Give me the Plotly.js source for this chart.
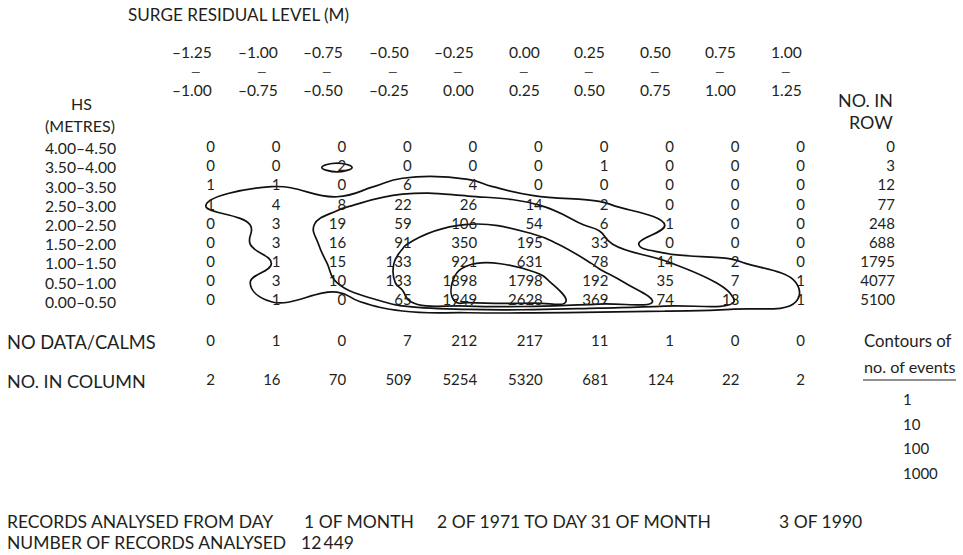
<!DOCTYPE html>
<html><head><meta charset="utf-8">
<script src="https://cdn.plot.ly/plotly-3.0.1.min.js"></script>
<style>html,body{margin:0;padding:0;background:#fff}#chart{width:963px;height:555px}</style>
</head><body><div id="chart"></div>
<script>
// ---------- DATA ----------
const surgeLow  = ["–1.25","–1.00","–0.75","–0.50","–0.25","0.00","0.25","0.50","0.75","1.00"];
const surgeHigh = ["–1.00","–0.75","–0.50","–0.25","0.00","0.25","0.50","0.75","1.00","1.25"];
const hsBands = ["4.00–4.50","3.50–4.00","3.00–3.50","2.50–3.00","2.00–2.50","1.50–2.00","1.00–1.50","0.50–1.00","0.00–0.50"];
const counts = [
  [0,0,0,0,0,0,0,0,0,0],
  [0,0,2,0,0,0,1,0,0,0],
  [1,1,0,6,4,0,0,0,0,0],
  [1,4,8,22,26,14,2,0,0,0],
  [0,3,19,59,106,54,6,1,0,0],
  [0,3,16,91,350,195,33,0,0,0],
  [0,1,15,133,921,631,78,14,2,0],
  [0,3,10,133,1898,1798,192,35,7,1],
  [0,1,0,65,1949,2628,369,74,13,1]
];
const rowTotals = [0,3,12,77,248,688,1795,4077,5100];
const noDataCalms = [0,1,0,7,212,217,11,1,0,0];
const columnTotals = [2,16,70,509,5254,5320,681,124,22,2];
const contourLevels = ["1","10","100","1000"];
const recordsLine1 = ["RECORDS ANALYSED FROM DAY","1 OF MONTH","2 OF 1971 TO DAY 31 OF MONTH","3 OF 1990"];
const recordsLine2 = ["NUMBER OF RECORDS ANALYSED","12\u2009449"];

// ---------- LAYOUT GEOMETRY (pixels) ----------
const W = 963, H = 555;
const colPx0 = 215, colStep = 65.56;   // anchor of first value column, spacing
const rowPx0 = 148.3, rowStep = 19.18; // first body row centre, spacing
const xr0 = -colPx0 / colStep, xr1 = xr0 + W / colStep;
const yr0 = -rowPx0 / rowStep, yr1 = yr0 + H / rowStep;
const pxToX = p => xr0 + p / colStep;
const pyToY = p => yr0 + p / rowStep;
const px = p => p / W, py = p => 1 - p / H;

const FONT = "Lato, 'Open Sans', sans-serif";
const TXT = "#231f20";
const fsNum = 15;

const nCols = surgeLow.length, nRows = hsBands.length;
const colIdx = Array.from({length:nCols}, (_, i) => i);
const numFont = () => ({family:FONT, size:fsNum, color:TXT});

// ---------- TRACES ----------
const traces = [];
// contours of number of events (log10 scale, levels 1,10,100,1000); zero counts -> 0.1
const lg = v => Math.log10(v > 0 ? v : 0.1);
const zeroLog = lg(0);
const cx = [-0.55].concat(colIdx.map(c => c - 0.14), [nCols - 1 + 0.3]);
const cy = counts.map((_, r) => r).concat([nRows - 1 + 0.75]);
const cz = counts.map(row => [zeroLog].concat(row.map(lg), [zeroLog]));
cz.push(cx.map(() => zeroLog));
traces.push({type:'contour', x:cx, y:cy, z:cz,
  contours:{coloring:'lines', start:0, end:3, size:1, showlabels:false},
  colorscale:[[0,'#111'],[1,'#111']], showscale:false,
  line:{width:1.7, smoothing:1.3, color:'#111'}, hoverinfo:'skip'});

// body cell texts
const bx = [], by = [], bt = [];
counts.forEach((row, r) => row.forEach((v, c) => { bx.push(c); by.push(r); bt.push(String(v)); }));
traces.push({type:'scatter', mode:'text', x:bx, y:by, text:bt, textposition:'middle left',
  textfont:numFont(), hoverinfo:'skip', showlegend:false});
// row totals
traces.push({type:'scatter', mode:'text', x:rowTotals.map(() => pxToX(895)), y:rowTotals.map((_, r) => r),
  text:rowTotals.map(String), textposition:'middle left', textfont:numFont(), hoverinfo:'skip', showlegend:false});
// no data / calms
traces.push({type:'scatter', mode:'text', x:colIdx, y:colIdx.map(() => pyToY(342)),
  text:noDataCalms.map(String), textposition:'middle left', textfont:numFont(), hoverinfo:'skip', showlegend:false});
// column totals
traces.push({type:'scatter', mode:'text', x:colIdx, y:colIdx.map(() => pyToY(381)),
  text:columnTotals.map(String), textposition:'middle left', textfont:numFont(), hoverinfo:'skip', showlegend:false});

// ---------- ANNOTATIONS ----------
const ann = [];
const A = (text, x, y, xanchor, size) => ({text, x:px(x), y:py(y), xref:'paper', yref:'paper',
  xanchor, yanchor:'middle', showarrow:false, font:{family:FONT, size:size, color:TXT}});
ann.push(A("SURGE RESIDUAL LEVEL (M)", 126, 15, 'left', 17.1));
colIdx.forEach(c => {
  ann.push({text:surgeLow[c], x:c, xref:'x', y:py(52), yref:'paper', xanchor:'right', yanchor:'middle', xshift:-1,
    showarrow:false, font:{family:FONT, size:15.6, color:TXT}});
  ann.push({text:"—", x:c, xref:'x', y:py(71), yref:'paper', xanchor:'center', yanchor:'middle', xshift:-19,
    showarrow:false, font:{family:FONT, size:12, color:TXT}});
  ann.push({text:surgeHigh[c], x:c, xref:'x', y:py(89.5), yref:'paper', xanchor:'right', yanchor:'middle', xshift:-1,
    showarrow:false, font:{family:FONT, size:15.6, color:TXT}});
});
ann.push(A("HS", 81, 103.5, 'center', 16));
ann.push(A("(METRES)", 80, 125, 'center', 16));
ann.push(A("NO. IN", 895, 100, 'right', 17.9));
ann.push(A("ROW", 895, 122, 'right', 17.9));
hsBands.forEach((b, r) => ann.push({text:b, x:px(118), xref:'paper', y:r, yref:'y', xanchor:'right', yanchor:'middle',
  showarrow:false, font:{family:FONT, size:15.7, color:TXT}}));
ann.push(A("NO DATA/CALMS", 5, 342, 'left', 18.3));
ann.push(A("NO. IN COLUMN", 5, 381, 'left', 18));
ann.push(A("Contours of", 908, 340, 'center', 16.8));
ann.push(A("no. of events", 909, 366, 'center', 16.2));
contourLevels.forEach((t, i) => ann.push(A(t, 901, 399 + i * 24.7, 'left', fsNum)));
const l1x = [5, 302, 435, 777];
recordsLine1.forEach((t, i) => ann.push(A(t, l1x[i], 521, 'left', 17.5)));
const l2x = [5, 299];
recordsLine2.forEach((t, i) => ann.push(A(t, l2x[i], 542, 'left', 17.5)));

const layout = {
  width:W, height:H, margin:{l:0, r:0, t:0, b:0, pad:0},
  paper_bgcolor:'#fff', plot_bgcolor:'#fff', showlegend:false,
  xaxis:{range:[xr0, xr1], visible:false, fixedrange:true},
  yaxis:{range:[yr1, yr0], visible:false, fixedrange:true},
  annotations:ann,
  shapes:[{type:'line', xref:'paper', yref:'paper', x0:px(863), x1:px(956), y0:py(380), y1:py(380),
    line:{color:TXT, width:1}}]
};
Plotly.newPlot('chart', traces, layout, {displayModeBar:false, staticPlot:true});
</script></body></html>
